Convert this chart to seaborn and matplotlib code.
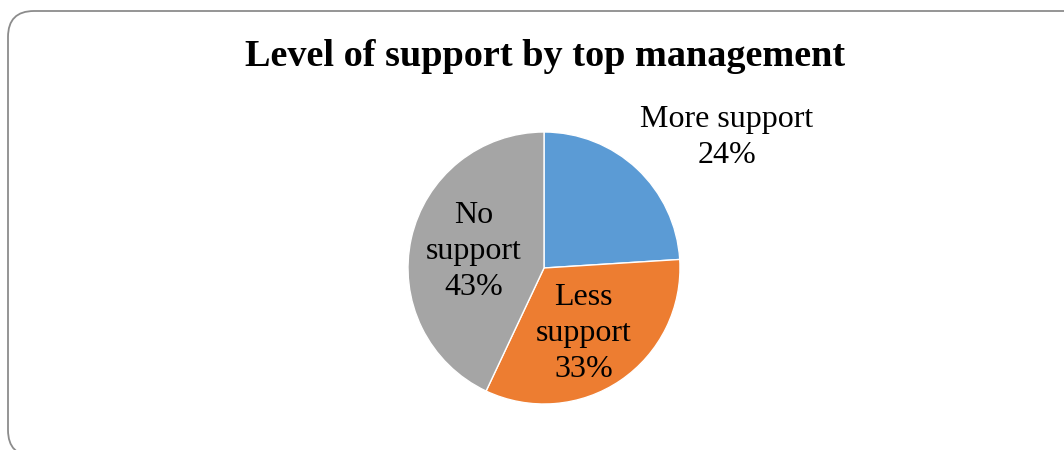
import matplotlib
matplotlib.use("Agg")
import matplotlib.pyplot as plt
from matplotlib.patches import FancyBboxPatch
from matplotlib.transforms import IdentityTransform
import numpy as np
import seaborn as sns

categories = ["More support", "Less support", "No support"]
values = [24, 33, 43]
label_texts = ["More support\n24%", "Less\nsupport\n33%", "No\nsupport\n43%"]
colors = ["#5B9BD5", "#ED7D31", "#A5A5A5"]

sns.set_theme(style="white")
plt.rcParams['font.family'] = ['Liberation Serif', 'DejaVu Serif']

W, H = 1064, 450
fig = plt.figure(figsize=(W / 100, H / 100), dpi=100)

# rounded chart border (extends past right/bottom edge), pixel coords
x0, y_top, x1, y_bot = 8, 11, 1090, 456
border = FancyBboxPatch((x0, H - y_bot), x1 - x0, y_bot - y_top,
                        boxstyle="round,pad=0,rounding_size=26",
                        transform=IdentityTransform(), fill=False,
                        edgecolor="#8c8c8c", linewidth=1.3)
fig.patches.append(border)

cx, cy, r = 544, 268, 136
ax = fig.add_axes([(cx - r) / W, (H - cy - r) / H, 2 * r / W, 2 * r / H])
wedges, _ = ax.pie(values, colors=colors, startangle=90, counterclock=False,
                   wedgeprops=dict(edgecolor="white", linewidth=1.0))
ax.set_xlim(-1, 1)
ax.set_ylim(-1, 1)
ax.set_aspect("equal")
ax.axis("off")

label_pos = [(1.345, 0.96), (0.29, -0.48), (-0.52, 0.12)]
for txt, (x, y) in zip(label_texts, label_pos):
    ax.text(x, y, txt, ha="center", va="center", fontsize=23,
            color="black", linespacing=1.32, clip_on=False)

fig.text(545 / W, 1 - 56 / H, "Level of support by top management",
         ha="center", va="center", fontsize=27.5, fontweight="bold", color="black")

fig.savefig("out.png", dpi=100)
